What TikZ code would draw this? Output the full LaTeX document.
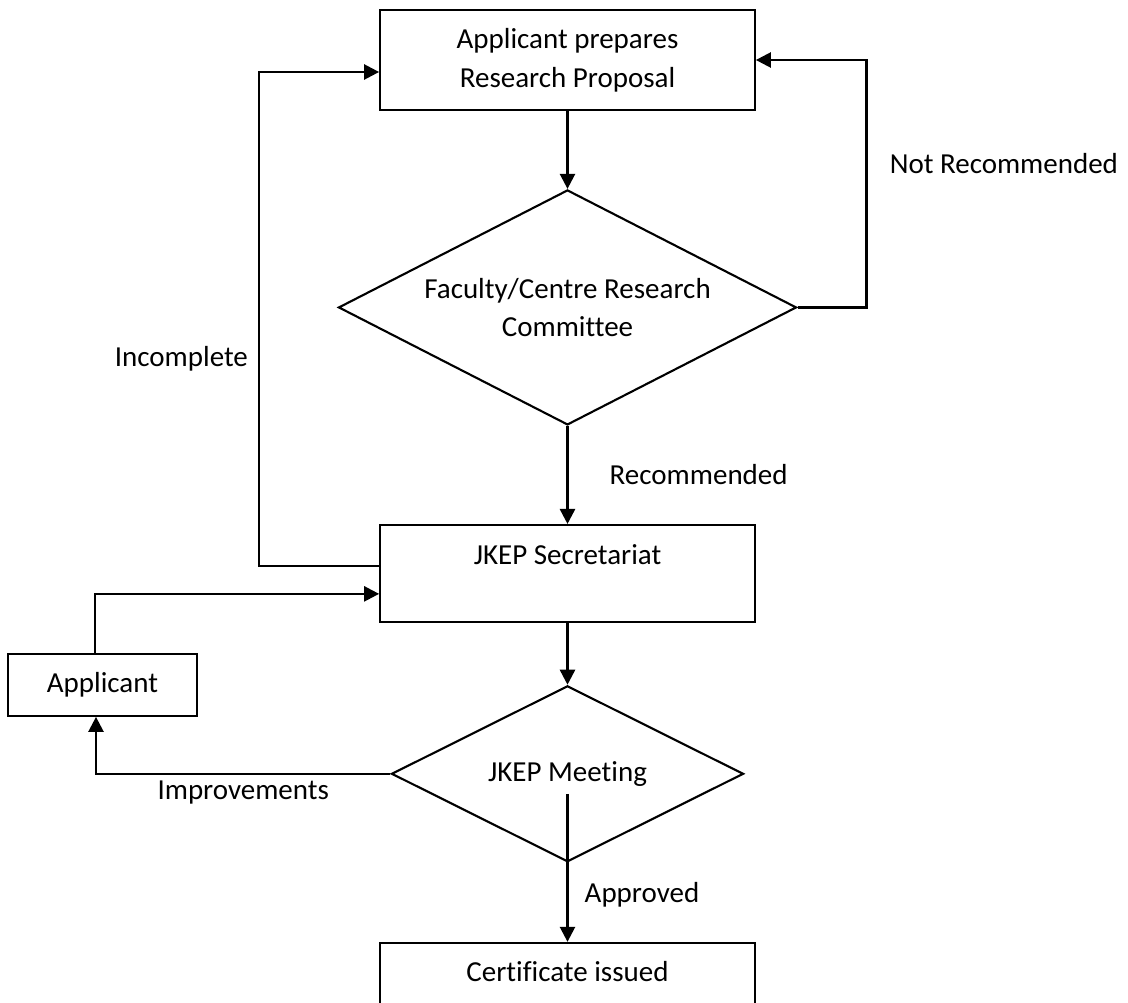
\documentclass[tikz,border=0pt]{standalone}
\usepackage{fontspec}
\setmainfont{Carlito}[Ligatures=NoCommon]
\usetikzlibrary{arrows.meta, positioning, shapes.geometric}

\begin{document}
\begin{tikzpicture}[
  font=\fontsize{16.5pt}{22pt}\selectfont,
  stepbox/.style={draw, line width=1pt, minimum width=7.5cm,
                  align=center, inner sep=2pt},
  decision/.style={draw, line width=1.2pt, diamond, aspect=1.95,
                   inner sep=0pt, align=center},
  arrowline/.style={-{Triangle[length=0.3cm, width=0.3cm]}, line width=1.4pt},
  tag/.style={inner sep=0pt}
]
\useasboundingbox (0,0) rectangle (22.56,-20.06);

\node[stepbox, minimum height=2.0cm] (prop) at (11.35,-1.2)
  {Applicant prepares\\ Research Proposal};
\node[decision, minimum width=9.16cm, minimum height=4.7cm, below=1.56cm of prop] (frc)
  {Faculty/Centre Research\\ Committee};
\node[stepbox, minimum height=1.94cm, below=1.96cm of frc] (sec) {JKEP Secretariat\\ ~};
\node[decision, aspect=2, minimum width=7.04cm, minimum height=3.52cm,
      below=1.24cm of sec] (meet) {JKEP Meeting};
\node[stepbox, minimum height=1.94cm, below=1.58cm of meet] (cert) {Certificate issued\\ ~};
\node[stepbox, minimum width=3.78cm, minimum height=1.24cm] (app) at (2.05,-13.7) {Applicant};

\draw[arrowline] (prop) -- (frc);
\draw[arrowline] (frc) -- node[tag, right=0.82cm]{Recommended} (sec);
\draw[arrowline] (sec) -- (meet);
\draw[arrowline] ([yshift=-0.4cm]meet.center) -- node[tag, right=0.32cm, pos=0.68]{Approved} (cert);

% Vueltas atras hacia la propuesta
\draw[arrowline] (frc.east) -- ++(1.38,0)
  |- node[tag, right=0.44cm, pos=0.29]{Not Recommended} (prop.east);
\draw[arrowline] ([yshift=0.15cm]sec.west) -- ++(-2.4,0)
  |- node[tag, left=0.2cm, pos=0.21]{Incomplete} ([yshift=-0.24cm]prop.west);

% Mejoras pedidas al solicitante
\draw[arrowline] (meet.west) -| node[tag, below=0.12cm, pos=0.25]{Improvements}
  ([xshift=-0.13cm]app.south);
\draw[arrowline] ([xshift=-0.15cm]app.north) |- ([yshift=-0.41cm]sec.west);

\end{tikzpicture}
\end{document}
